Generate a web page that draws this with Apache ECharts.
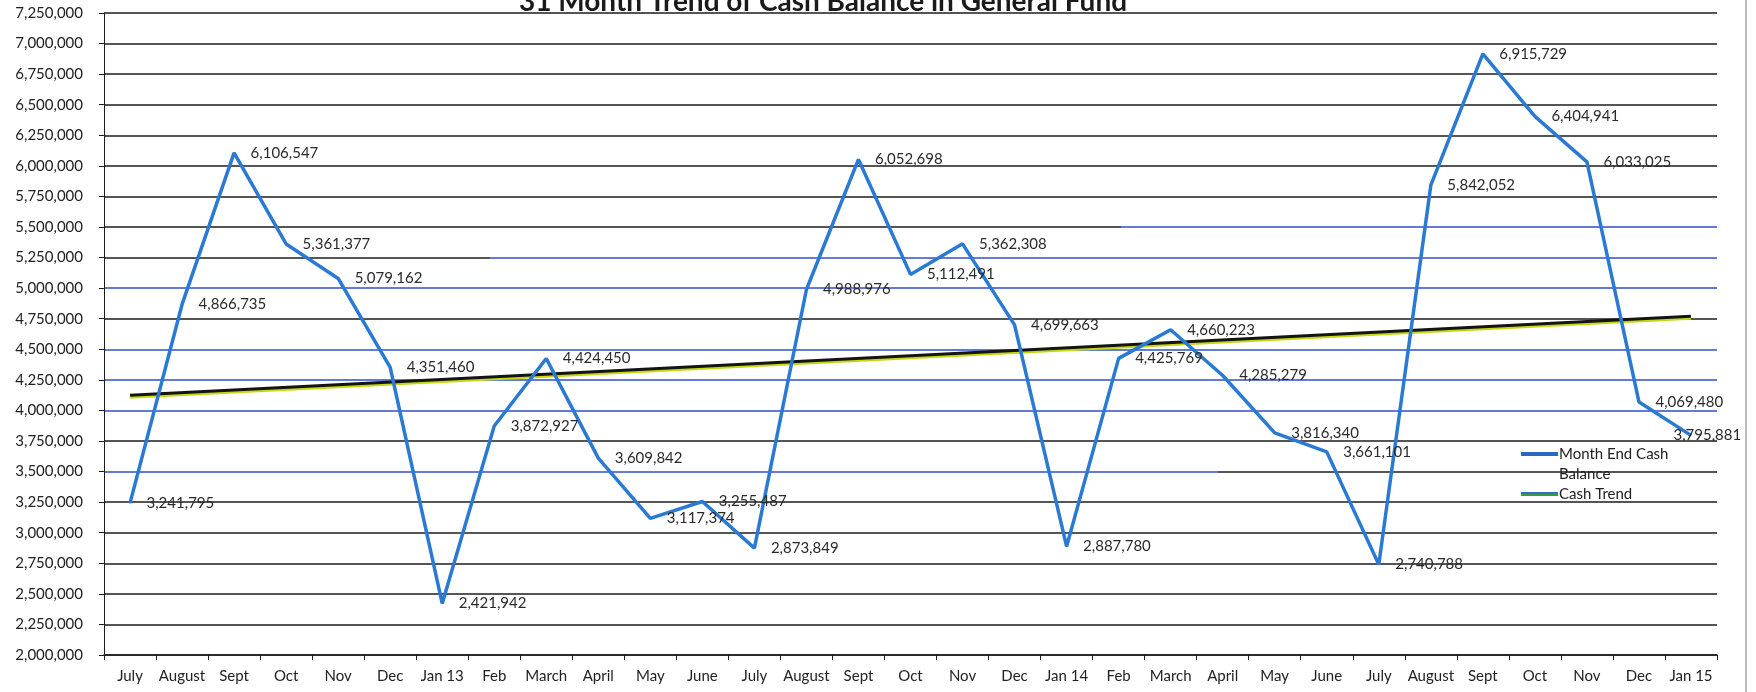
<!DOCTYPE html>
<html>
<head>
<meta charset="utf-8">
<script src="https://cdn.jsdelivr.net/npm/echarts@6/dist/echarts.min.js"></script>
<style>
html,body{margin:0;padding:0;background:#fff;}
#chart{width:1756px;height:692px;}
</style>
</head>
<body>
<div id="chart"></div>
<script>
const categories = ['July','August','Sept','Oct','Nov','Dec','Jan 13','Feb','March','April','May','June',
  'July','August','Sept','Oct','Nov','Dec','Jan 14','Feb','March','April','May','June',
  'July','August','Sept','Oct','Nov','Dec','Jan 15'];
const cashBalance = [3241795,4866735,6106547,5361377,5079162,4351460,2421942,3872927,4424450,3609842,3117374,3255487,
  2873849,4988976,6052698,5112491,5362308,4699663,2887780,4425769,4660223,4285279,3816340,3661101,
  2740788,5842052,6915729,6404941,6033025,4069480,3795881];
const trendIndex = [0, 30];
const trendValues = [4125000, 4770000];
const yMin = 2000000, yMax = 7250000, yStep = 250000;

// gridline styling (scanned original: some lines blue, some black, some change colour part way)
const BLACK = '#1c1c1c', BLUE = '#2f4fc9';
const gridStyle = {
  3500000: [0.69, BLUE, BLACK],
  4000000: BLUE, 4250000: BLUE, 4500000: BLUE, 5000000: BLUE,
  5250000: [0.24, BLACK, BLUE],
  5500000: [0.63, BLACK, BLUE]
};
// label placement tweaks (last label is pulled back inside the plot, as in the original)
const labelAdjust = {30: {show:true, position:'right', distance:-18}};

const fmt = v => Math.round(v).toLocaleString('en-US');
function gridColor(v){
  const s = gridStyle[v];
  if (!s) return BLACK;
  if (typeof s === 'string') return s;
  return new echarts.graphic.LinearGradient(0,0,1,0,[
    {offset:0,color:s[1]},{offset:s[0],color:s[1]},{offset:s[0],color:s[2]},{offset:1,color:s[2]}]);
}
const gridColors = [];
for (let v = yMin; v <= yMax; v += yStep) gridColors.push(gridColor(v));

const chart = echarts.init(document.getElementById('chart'), null, {renderer:'canvas'});
const FONT = 'Lato';
chart.setOption({
  animation:false,
  backgroundColor:'#ffffff',
  title:{
    text:'31 Month Trend of Cash Balance in General Fund',
    left:818, top:-17, textAlign:'center',
    textStyle:{fontFamily:FONT, fontSize:28, fontWeight:'bold', color:'#1a1a1a', lineHeight:28}
  },
  grid:{left:104, top:13, width:1613, height:642, containLabel:false},
  legend:{
    orient:'vertical', left:1516, top:419, itemWidth:37, itemHeight:4, itemGap:0,
    icon:'rect',
    formatter: n => n === 'Month End Cash Balance' ? '\nMonth End Cash\nBalance' : n,
    textStyle:{fontFamily:FONT, fontSize:15, color:'#222', lineHeight:20, padding:[0,0,0,-4]},
    data:[
      {name:'Month End Cash Balance', itemStyle:{color:'#2a68c4'}},
      {name:'Cash Trend', itemStyle:{color:new echarts.graphic.LinearGradient(0,0,0,1,[
        {offset:0,color:'#2f6fd0'},{offset:0.5,color:'#2f6fd0'},{offset:0.5,color:'#3d9a3a'},{offset:1,color:'#3d9a3a'}])}}
    ]
  },
  xAxis:{
    type:'category', data:categories, boundaryGap:true,
    axisLine:{lineStyle:{color:BLACK, width:1.5}},
    axisTick:{show:true, length:5, inside:false, lineStyle:{color:BLACK}},
    axisLabel:{fontFamily:FONT, fontSize:15, color:'#222', margin:14, interval:0},
    splitLine:{show:false}
  },
  yAxis:{
    type:'value', min:yMin, max:yMax, interval:yStep,
    axisLine:{show:true, lineStyle:{color:BLACK, width:1}},
    axisTick:{show:true, length:5, lineStyle:{color:BLACK}},
    axisLabel:{fontFamily:FONT, fontSize:15, color:'#222', margin:21, formatter: v => fmt(v)},
    splitLine:{show:true, lineStyle:{color:gridColors, width:1.6}}
  },
  series:[
    {
      name:'Month End Cash Balance', type:'line',
      data:cashBalance.map((v,i)=> labelAdjust[i] ? {value:v, label:labelAdjust[i]} : v),
      symbol:'circle', symbolSize:1, showSymbol:true,
      lineStyle:{color:'#2a7ad3', width:3.5}, itemStyle:{color:'#2a7ad3'},
      label:{show:true, position:'right', distance:16, fontFamily:FONT, fontSize:15, color:'#2a2a2a',
        formatter: p => fmt(p.value)},
      z:3
    },
    {
      name:'Cash Trend', type:'line', data:trendIndex.map((i,k)=>[i, trendValues[k]]), symbol:'none',
      lineStyle:{color:'#141414', width:3, shadowColor:'#c4d816', shadowOffsetY:2, shadowBlur:0},
      z:2
    }
  ],
  graphic:[
    {type:'line', shape:{x1:1746, y1:0, x2:1746, y2:692}, style:{stroke:'#777', lineWidth:1}}
  ]
});
</script>
</body>
</html>
